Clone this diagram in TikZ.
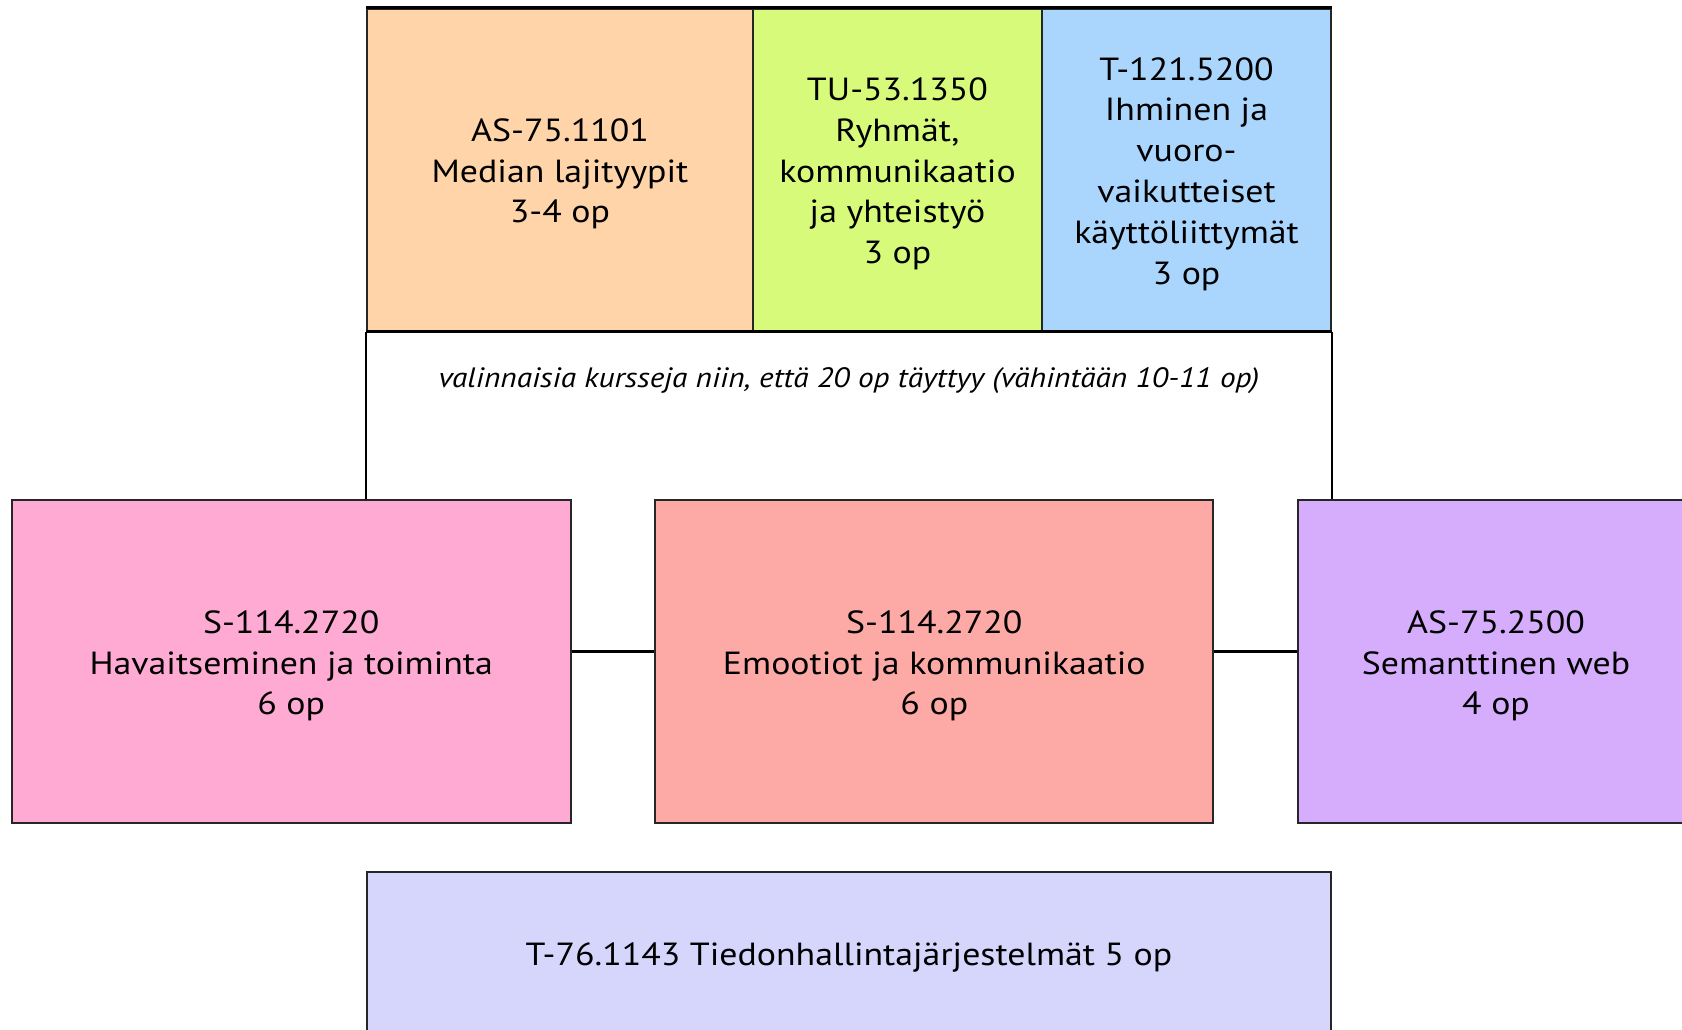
\documentclass[tikz,border=0pt]{standalone}
\usepackage{fontspec}
\setmainfont{PT Sans}[FakeStretch=1.12]
\definecolor{cOrange}{HTML}{FED4A8}
\definecolor{cGreen}{HTML}{D7FA7B}
\definecolor{cBlue}{HTML}{AAD5FD}
\definecolor{cPink}{HTML}{FEAAD3}
\definecolor{cRed}{HTML}{FDAAA6}
\definecolor{cPurple}{HTML}{D6ADFD}
\definecolor{cLav}{HTML}{D6D6FD}
\newcommand\boxtext[1]{\raisebox{-2.2pt}[\height][\depth]{\begin{tabular}{@{}c@{}}#1\end{tabular}}}
\begin{document}
\begin{tikzpicture}[x=0.5pt,y=-0.5pt,
  box/.style={draw=black!85,line width=1pt,inner sep=0pt,
    font=\fontsize{16}{20.4}\selectfont},
  link/.style={draw=black,line width=1.1pt}]
\useasboundingbox (0,0) rectangle (1682,1029);
\clip (0,0) rectangle (1682,1029);
% top row
\node[box,fill=cOrange,minimum width=193pt,minimum height=161pt] (ma) at (560,169.5)
  {\boxtext{AS-75.1101\\Median lajityypit\\3-4 op}};
\node[box,fill=cGreen,minimum width=144.5pt,minimum height=161pt] (ry) at (897.5,169.5)
  {\boxtext{TU-53.1350\\Ryhmät,\\kommunikaatio\\ja yhteistyö\\3 op}};
\node[box,fill=cBlue,minimum width=144.5pt,minimum height=161pt] (ih) at (1186.5,169.5)
  {\boxtext{T-121.5200\\Ihminen ja\\vuoro-\\vaikutteiset\\käyttöliittymät\\3 op}};
\node[font=\itshape\fontsize{14}{16}\selectfont] (note) at (849,381)
  {valinnaisia kursseja niin, että 20 op täyttyy (vähintään 10-11 op)};
% middle row
\node[box,fill=cPink,minimum width=279.5pt,minimum height=161.5pt] (hav) at (291.2,661.5)
  {\boxtext{S-114.2720\\Havaitseminen ja toiminta\\6 op}};
\node[box,fill=cRed,minimum width=279pt,minimum height=161.5pt] (emo) at (934.3,661.5)
  {\boxtext{S-114.2720\\Emootiot ja kommunikaatio\\6 op}};
\node[box,fill=cPurple,minimum width=198pt,minimum height=161.5pt] (sem) at (1496,661.5)
  {\boxtext{AS-75.2500\\Semanttinen web\\4 op}};
% bottom
\node[box,fill=cLav,minimum width=482pt,minimum height=80.5pt] (tied) at (849,952.8)
  {\boxtext{T-76.1143 Tiedonhallintajärjestelmät 5 op}};
% frame sides and connectors
\draw[link] (ma.north west) -- (ih.north east);
\draw[link] (ma.south west) -- (ih.south east);
\draw[link] (ma.south west) -- (ma.south west |- hav.north);
\draw[link] (ih.south east) -- (ih.south east |- sem.north);
\draw[link] ([yshift=5pt]hav.east) -- ([yshift=5pt]emo.west);
\draw[link] ([yshift=5pt]emo.east) -- ([yshift=5pt]sem.west);
\end{tikzpicture}
\end{document}
